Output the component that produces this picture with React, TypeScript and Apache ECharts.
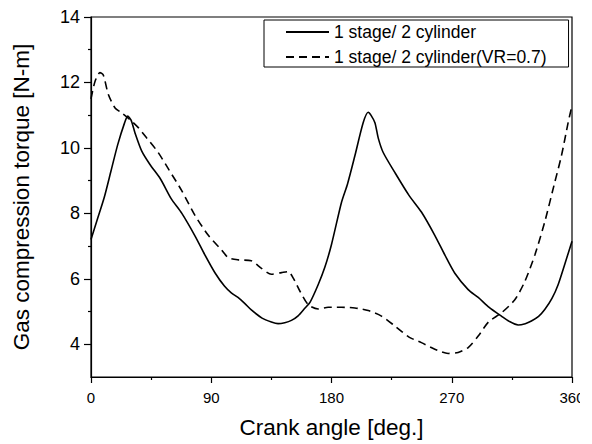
import React, { useEffect, useRef } from "react";
import * as echarts from "echarts";

const solidAngle = [0, 5, 10, 15, 20, 25, 27.5, 30, 33, 38, 44, 52, 60, 68, 78, 85, 93, 100, 105, 110, 115, 120, 128, 135, 140, 145, 150, 155, 160, 164, 170, 175, 180, 187.5, 192, 197.5, 203.7, 207.5, 209.5, 212.5, 215, 218.7, 227.4, 238, 247.3, 257.3, 264.8, 272.3, 282.3, 289.8, 298, 307.2, 313, 319.7, 325, 329.6, 335, 339.6, 345, 349.6, 355, 360];
const solidTorque = [7.2, 7.85, 8.5, 9.3, 10.1, 10.75, 10.97, 10.85, 10.45, 9.9, 9.5, 9.05, 8.45, 8.0, 7.3, 6.75, 6.17, 5.77, 5.57, 5.43, 5.25, 5.05, 4.8, 4.68, 4.63, 4.66, 4.73, 4.87, 5.1, 5.29, 5.82, 6.35, 7.05, 8.34, 8.9, 9.76, 10.77, 11.09, 11.0, 10.77, 10.3, 9.86, 9.25, 8.55, 8.04, 7.33, 6.73, 6.17, 5.67, 5.43, 5.13, 4.86, 4.7, 4.59, 4.63, 4.71, 4.85, 5.06, 5.4, 5.82, 6.5, 7.15];

const dashAngle = [0, 3, 6.7, 9.2, 13, 18, 23, 29, 35.4, 41.6, 50.3, 58.5, 67.8, 77.8, 87.8, 97.7, 102.7, 110, 120, 127.6, 135, 142.6, 147.6, 151.4, 156.4, 162.6, 170, 177.5, 187.5, 197.5, 207.5, 217.4, 227.4, 238, 247.3, 257.3, 267.3, 274.8, 282.3, 289.8, 297.5, 307.2, 317.2, 324.7, 332.2, 339.6, 347.1, 352.1, 357.1, 360];
const dashTorque = [11.5, 12.03, 12.3, 12.23, 11.63, 11.22, 11.07, 10.87, 10.62, 10.31, 9.86, 9.32, 8.7, 7.94, 7.33, 6.88, 6.65, 6.58, 6.55, 6.32, 6.14, 6.19, 6.22, 6.02, 5.62, 5.21, 5.08, 5.13, 5.13, 5.11, 5.03, 4.86, 4.56, 4.22, 4.05, 3.85, 3.72, 3.75, 3.9, 4.25, 4.68, 4.96, 5.36, 5.92, 6.73, 7.74, 8.95, 9.76, 10.77, 11.3];

const seriesNames = ["1 stage/ 2 cylinder", "1 stage/ 2 cylinder(VR=0.7)"];
const yTickLabels = [4, 6, 8, 10, 12, 14];
const yMinorTicks = [5, 7, 9, 11, 13];
const xTickLabels = [0, 90, 180, 270, 360];

const FONT = "'Liberation Sans', Arial, sans-serif";

export default function App() {
  const ref = useRef<HTMLDivElement>(null);
  useEffect(() => {
    if (!ref.current) return;
    const chart = echarts.init(ref.current, undefined, { renderer: "svg" });
    const solidData = solidAngle.map((a, i) => [a, solidTorque[i]]);
    const dashData = dashAngle.map((a, i) => [a, dashTorque[i]]);
    chart.setOption({
      animation: false,
      backgroundColor: "#fff",
      textStyle: { fontFamily: FONT, color: "#000" },
      grid: {
        left: 91,
        right: 20,
        top: 17,
        bottom: 62,
        show: true,
        borderColor: "#000",
        borderWidth: 1.2,
        backgroundColor: "transparent",
      },
      legend: {
        orient: "vertical",
        left: 264,
        top: 20,
        padding: [3, 22, 1, 21],
        itemGap: 7,
        itemWidth: 43,
        itemHeight: 14,
        borderColor: "#000",
        borderWidth: 1,
        backgroundColor: "#fff",
        itemStyle: { opacity: 0 },
        textStyle: { fontSize: 17.5, color: "#000", fontFamily: FONT },
        data: seriesNames,
      },
      xAxis: {
        type: "value",
        min: xTickLabels[0],
        max: xTickLabels[xTickLabels.length - 1],
        interval: 90,
        name: "Crank angle [deg.]",
        nameLocation: "middle",
        nameGap: 39,
        nameTextStyle: { fontSize: 22.5, color: "#000", fontFamily: FONT },
        axisLine: { show: true, lineStyle: { color: "#000", width: 1.2 } },
        axisTick: { show: true, length: 6, lineStyle: { color: "#000", width: 1.2 } },
        minorTick: { show: true, splitNumber: 2, length: 3, lineStyle: { color: "#000", width: 1.2 } },
        axisLabel: { fontSize: 15, margin: 13, color: "#000", fontFamily: FONT, showMaxLabel: true, showMinLabel: true },
        splitLine: { show: false },
      },
      yAxis: [
        {
          type: "value",
          min: 3,
          max: 14,
          name: "Gas compression torque [N-m]",
          nameLocation: "middle",
          nameGap: 58,
          nameTextStyle: { fontSize: 22.5, color: "#000", fontFamily: FONT },
          axisLine: { show: true, lineStyle: { color: "#000", width: 1.2 } },
          axisTick: { show: true, length: 7, customValues: yTickLabels, lineStyle: { color: "#000", width: 1.2 } },
          axisLabel: { fontSize: 18, margin: 11, color: "#000", fontFamily: FONT, customValues: yTickLabels },
          splitLine: { show: false },
        },
        {
          type: "value",
          min: 3,
          max: 14,
          position: "left",
          axisLine: { show: false },
          axisTick: { show: true, length: 3, customValues: yMinorTicks, lineStyle: { color: "#000", width: 1.2 } },
          axisLabel: { show: false },
          splitLine: { show: false },
        },
      ],
      series: [
        {
          name: seriesNames[0],
          type: "line",
          yAxisIndex: 0,
          data: solidData,
          symbol: "none",
          smooth: 0.25,
          lineStyle: { color: "#000", width: 1.6, type: "solid" },
          itemStyle: { color: "#000" },
        },
        {
          name: seriesNames[1],
          type: "line",
          yAxisIndex: 0,
          data: dashData,
          symbol: "none",
          smooth: 0.25,
          lineStyle: { color: "#000", width: 1.6, type: [8, 5] },
          itemStyle: { color: "#000" },
        },
      ],
      graphic: [
        {
          type: "rect",
          left: 580,
          top: 388,
          shape: { width: 12, height: 24 },
          style: { fill: "#fff" },
          z: 100,
        },
      ],
    });
    return () => chart.dispose();
  }, []);
  return (
    <div
      ref={ref}
      style={{ position: "fixed", left: 0, top: 0, width: 592, height: 444 }}
    />
  );
}
